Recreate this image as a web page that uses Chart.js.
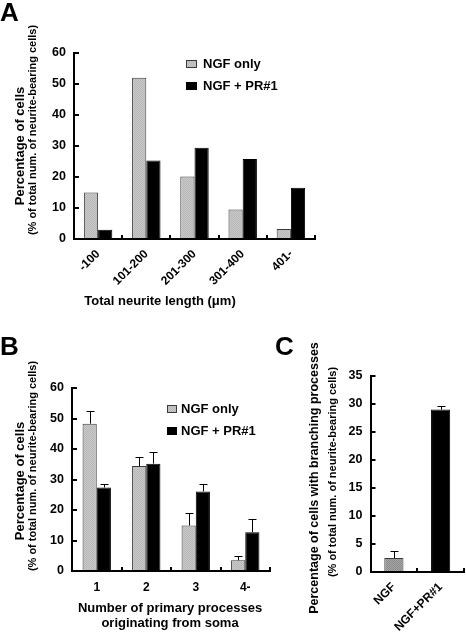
<!DOCTYPE html>
<html>
<head>
<meta charset="utf-8">
<script src="https://cdn.jsdelivr.net/npm/chart.js@4"></script>
<style>
  body { margin: 0; background: #fff; }
  #wrap { position: relative; width: 466px; height: 632px; }
  canvas { position: absolute; }
</style>
</head>
<body>
<div id="wrap">
  <canvas id="chartA" width="466" height="320" style="left:0;top:0"></canvas>
  <canvas id="chartB" width="272" height="312" style="left:0;top:320px"></canvas>
  <canvas id="chartC" width="194" height="312" style="left:272px;top:320px"></canvas>
</div>
<script>
// panel A - total neurite length
const lengthBins = ['-100', '101-200', '201-300', '301-400', '401-'];
const lengthNgf = [15, 52, 20.2, 9.5, 3.2];
const lengthNgfPr = [3, 25.3, 29.4, 25.8, 16.5];

// panel B - primary processes
const processBins = ['1', '2', '3', '4-'];
const processNgf = [48.3, 34.4, 14.9, 3.5];
const processNgfErr = [4, 2.9, 4.2, 1.3];
const processNgfPr = [27.4, 35.2, 26.1, 12.7];
const processNgfPrErr = [1.1, 3.7, 2.3, 4.3];

// panel C - branching
const branchGroups = ['NGF', 'NGF+PR#1'];
const branchValues = [2.5, 29];
const branchErr = [1.2, 0.6];

const FONT = '"Liberation Sans", Arial, sans-serif';
Chart.defaults.font.family = FONT;
Chart.defaults.font.weight = 'bold';
Chart.defaults.font.size = 12;
Chart.defaults.color = '#000';
Chart.defaults.animation = false;

// fine low-contrast checker, reads as a stippled grey
function stipple(light, dark) {
    const c = document.createElement('canvas');
    c.width = 2;
    c.height = 2;
    const g = c.getContext('2d');
    g.fillStyle = light;
    g.fillRect(0, 0, 2, 2);
    g.fillStyle = dark;
    g.fillRect(0, 0, 1, 1);
    g.fillRect(1, 1, 1, 1);
    return g.createPattern(c, 'repeat');
}
const greyFill = stipple('#cacaca', '#b6b6b6');
const darkGreyFill = stipple('#a4a4a4', '#8c8c8c');

// free text: panel letters and axis titles
const texts = {
    id: 'texts',
    afterDraw(chart, args, opts) {
        const ctx = chart.ctx;
        opts.items.forEach(function (t) {
            ctx.save();
            ctx.font = 'bold ' + t.size + 'px ' + FONT;
            ctx.fillStyle = '#000';
            ctx.textAlign = t.align || 'center';
            ctx.textBaseline = t.base || 'middle';
            ctx.translate(t.x, t.y);
            if (t.rotate) ctx.rotate(-Math.PI / 2);
            ctx.fillText(t.text, 0, 0);
            ctx.restore();
        });
    }
};

// legend boxes placed inside the plot
const boxLegend = {
    id: 'boxLegend',
    afterDraw(chart, args, opts) {
        const ctx = chart.ctx;
        chart.data.datasets.forEach(function (ds, i) {
            const y = opts.y + i * opts.gap;
            ctx.save();
            ctx.fillStyle = ds.backgroundColor;
            ctx.fillRect(opts.x, y - opts.h / 2, opts.w, opts.h);
            ctx.strokeStyle = ds.borderColor;
            ctx.lineWidth = 1;
            ctx.strokeRect(opts.x + 0.5, y - opts.h / 2 + 0.5, opts.w - 1, opts.h - 1);
            ctx.font = 'bold 13px ' + FONT;
            ctx.fillStyle = '#000';
            ctx.textAlign = 'left';
            ctx.textBaseline = 'middle';
            ctx.fillText(ds.label, opts.x + opts.w + opts.pad, y);
            ctx.restore();
        });
    }
};

// upward error bars with a cap
const errorBars = {
    id: 'errorBars',
    afterDatasetsDraw(chart) {
        const ctx = chart.ctx;
        const yScale = chart.scales.y;
        chart.data.datasets.forEach(function (ds, i) {
            if (!ds.errors) return;
            chart.getDatasetMeta(i).data.forEach(function (bar, j) {
                const top = Math.round(yScale.getPixelForValue(ds.data[j] + ds.errors[j]));
                const x = Math.round(bar.x) + 0.5;
                ctx.save();
                ctx.strokeStyle = '#000';
                ctx.lineWidth = 1;
                ctx.beginPath();
                ctx.moveTo(x, bar.y);
                ctx.lineTo(x, top);
                ctx.moveTo(x - 4, top + 0.5);
                ctx.lineTo(x + 4, top + 0.5);
                ctx.stroke();
                ctx.restore();
            });
        });
    }
};

function xAxis(height, rotated, pad) {
    return {
        grid: { drawOnChartArea: false, tickLength: -4, lineWidth: 2, color: '#000', offset: true },
        border: { color: '#000', width: 2 },
        ticks: { autoSkip: false, minRotation: rotated ? 45 : 0, maxRotation: rotated ? 45 : 0, padding: pad, font: { size: 12, weight: 'bold' } },
        afterFit: function (s) { s.height = height; s.paddingLeft = 0; s.paddingRight = 0; }
    };
}

function yAxis(width, max, step) {
    return {
        min: 0,
        max: max,
        grid: { drawOnChartArea: false, tickLength: -5, lineWidth: 2, color: '#000' },
        border: { color: '#000', width: 2 },
        ticks: { stepSize: step, padding: 13, font: { size: 12.5, weight: 'bold' } },
        afterFit: function (s) { s.width = width; s.paddingTop = 0; s.paddingBottom = 0; }
    };
}

new Chart(document.getElementById('chartA'), {
    type: 'bar',
    data: {
        labels: lengthBins,
        datasets: [
            { label: 'NGF only', data: lengthNgf, backgroundColor: greyFill, borderColor: '#3a3a3a', borderWidth: 1 },
            { label: 'NGF + PR#1', data: lengthNgfPr, backgroundColor: '#000', borderColor: '#000', borderWidth: 1 }
        ]
    },
    options: {
        responsive: false,
        categoryPercentage: 0.59,
        barPercentage: 1,
        layout: { padding: { left: 0, top: 53, right: 151, bottom: 0 }, autoPadding: false },
        scales: { x: xAxis(81, true, 12), y: yAxis(74, 60, 10) },
        plugins: {
            legend: { display: false },
            tooltip: { enabled: false },
            boxLegend: { x: 186, y: 64, gap: 22, w: 11, h: 8, pad: 6 },
            texts: {
                items: [
                    { text: 'A', x: 0, y: 21, size: 26, align: 'left', base: 'alphabetic' },
                    { text: 'Percentage of cells', x: 20, y: 146, size: 13, rotate: true },
                    { text: '(% of total num. of neurite-bearing cells)', x: 33, y: 130, size: 11, rotate: true },
                    { text: 'Total neurite length (\u03bcm)', x: 160, y: 301, size: 13 }
                ]
            }
        }
    },
    plugins: [boxLegend, texts]
});

new Chart(document.getElementById('chartB'), {
    type: 'bar',
    data: {
        labels: processBins,
        datasets: [
            { label: 'NGF only', data: processNgf, errors: processNgfErr, backgroundColor: greyFill, borderColor: '#3a3a3a', borderWidth: 1 },
            { label: 'NGF + PR#1', data: processNgfPr, errors: processNgfPrErr, backgroundColor: '#000', borderColor: '#000', borderWidth: 1 }
        ]
    },
    options: {
        responsive: false,
        categoryPercentage: 0.573,
        barPercentage: 1,
        layout: { padding: { left: 0, top: 68, right: 2, bottom: 0 }, autoPadding: false },
        scales: { x: xAxis(61, false, 13), y: yAxis(72, 60, 10) },
        plugins: {
            legend: { display: false },
            tooltip: { enabled: false },
            boxLegend: { x: 167, y: 89, gap: 22, w: 10, h: 8, pad: 4 },
            texts: {
                items: [
                    { text: 'B', x: 0, y: 35, size: 26, align: 'left', base: 'alphabetic' },
                    { text: 'Percentage of cells', x: 20, y: 161, size: 13, rotate: true },
                    { text: '(% of total num. of neurite-bearing cells)', x: 33, y: 146, size: 11, rotate: true },
                    { text: 'Number of primary processes', x: 170, y: 288, size: 13 },
                    { text: 'originating from soma', x: 170, y: 303, size: 13 }
                ]
            }
        }
    },
    plugins: [boxLegend, errorBars, texts]
});

new Chart(document.getElementById('chartC'), {
    type: 'bar',
    data: {
        labels: branchGroups,
        datasets: [
            { label: 'Branching', data: branchValues, errors: branchErr, backgroundColor: [darkGreyFill, '#000'], borderColor: ['#3a3a3a', '#000'], borderWidth: 1 }
        ]
    },
    options: {
        responsive: false,
        categoryPercentage: 0.41,
        barPercentage: 1,
        layout: { padding: { left: 0, top: 56, right: 2, bottom: 0 }, autoPadding: false },
        scales: { x: xAxis(60, true, 12), y: yAxis(98.5, 35, 5) },
        plugins: {
            legend: { display: false },
            tooltip: { enabled: false },
            texts: {
                items: [
                    { text: 'C', x: 3, y: 35, size: 26, align: 'left', base: 'alphabetic' },
                    { text: 'Percentage of cells with branching processes', x: 43, y: 158, size: 12.5, rotate: true },
                    { text: '(% of total num. of neurite-bearing cells)', x: 61, y: 152, size: 11, rotate: true }
                ]
            }
        }
    },
    plugins: [errorBars, texts]
});
</script>
</body>
</html>
